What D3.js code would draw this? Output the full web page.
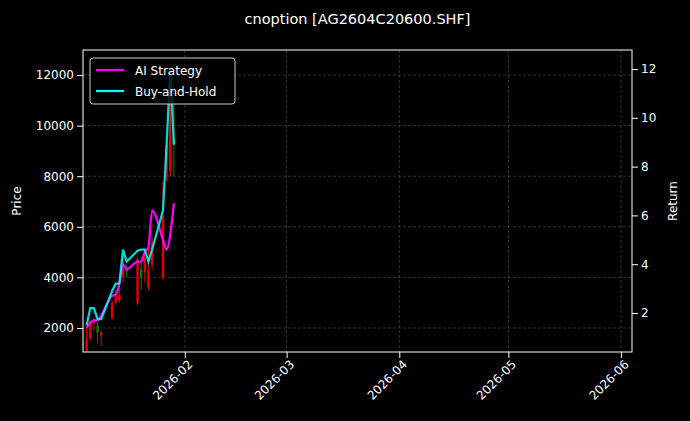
<!DOCTYPE html>
<html>
<head>
<meta charset="utf-8">
<title>cnoption</title>
<script src="https://cdn.jsdelivr.net/npm/d3@7"></script>
<style>
  body { margin: 0; background: #000; }
  text { font-family: "DejaVu Sans", sans-serif; fill: #fff; }
</style>
</head>
<body>
<div id="chart"></div>
<script>
var dates = ["2026-01-05","2026-01-06","2026-01-07","2026-01-08","2026-01-09","2026-01-12","2026-01-13",
  "2026-01-14","2026-01-15","2026-01-16","2026-01-19","2026-01-20","2026-01-21","2026-01-22","2026-01-23",
  "2026-01-26","2026-01-27","2026-01-28","2026-01-29"];
var open  = [1100,1600,2200,2100,1700,2400,3000,3100,4000,4400,3000,4300,4200,3600,4500,4000,8000,8200,9500];
var high  = [2100,2300,2400,2200,1900,3100,3500,3700,4800,4500,4800,4800,4900,5200,5600,7800,9400,12400,12000];
var low   = [1050,1500,1900,1400,1300,2300,2900,3000,3800,4000,2900,3500,3800,3500,4300,3900,7800,8000,8000];
var close = [1556,2281,2281,1815,1815,3007,3318,3318,4770,4252,4718,4000,4770,4252,5400,6430,9230,12000,9230];
var aiRet = [1.4,1.6,1.7,1.7,1.9,2.7,2.75,3.2,4.0,3.8,4.1,4.1,4.5,4.7,6.2,5.0,4.6,5.2,6.5];
var bhRet = [1.5,2.2,2.2,1.75,1.75,2.9,3.2,3.2,4.6,4.1,4.55,4.6,4.6,4.1,4.6,6.2,8.9,12.0,8.9];
var xTicks = ["2026-02-01","2026-03-01","2026-04-01","2026-05-01","2026-06-01"];

var W = 690, H = 421, L = 83, R = 632, T = 50, B = 352;
var parse = d3.utcParse("%Y-%m-%d");
var svg = d3.select("#chart").append("svg").attr("width", W).attr("height", H)
  .style("background", "#000");

var x = d3.scaleUtc().domain([parse("2026-01-04"), parse("2026-06-04")]).range([L, R]);
var y = d3.scaleLinear().domain([1050, 12990]).range([B, T]);
var y2 = d3.scaleLinear().domain([0.40, 12.78]).range([B, T]);

// grid
var g = svg.append("g");
xTicks.forEach(function(d) {
  g.append("line").attr("x1", x(parse(d))).attr("x2", x(parse(d))).attr("y1", T).attr("y2", B);
});
[2000,4000,6000,8000,10000,12000].forEach(function(v) {
  g.append("line").attr("x1", L).attr("x2", R).attr("y1", y(v)).attr("y2", y(v));
});
g.selectAll("line").attr("stroke", "#555").attr("stroke-dasharray", "3,2").attr("stroke-width", 0.6);

// candles
var rows = dates.map(function(d, i) {
  return {t: parse(d), o: open[i], h: high[i], l: low[i], c: close[i]};
});
var cg = svg.append("g");
rows.forEach(function(r) {
  var col = r.c >= r.o ? "#e00000" : "#008000";
  var cx = x(r.t);
  cg.append("line").attr("x1", cx).attr("x2", cx).attr("y1", y(r.h)).attr("y2", y(r.l))
    .attr("stroke", col).attr("stroke-width", 1);
  cg.append("rect").attr("x", cx - 1.2).attr("width", 2.4)
    .attr("y", y(Math.max(r.o, r.c))).attr("height", Math.max(1, Math.abs(y(r.o) - y(r.c))))
    .attr("fill", col);
});

// return lines
var ai = d3.line().x(function(d, i) { return x(parse(dates[i])); }).y(function(d) { return y2(d); })
  .curve(d3.curveMonotoneX);
var bh = d3.line().x(function(d, i) { return x(parse(dates[i])); }).y(function(d) { return y2(d); });
svg.append("path").attr("d", ai(aiRet)).attr("fill", "none").attr("stroke", "#ff00ff").attr("stroke-width", 2.2);
svg.append("path").attr("d", bh(bhRet)).attr("fill", "none").attr("stroke", "#00ffff")
  .attr("stroke-width", 2.2).attr("stroke-opacity", 0.85);

// axes
var ax = svg.append("g").attr("transform", "translate(0," + B + ")")
  .call(d3.axisBottom(x).tickValues(xTicks.map(parse)).tickFormat(d3.utcFormat("%Y-%m")).tickSizeOuter(0));
ax.selectAll("text").attr("text-anchor", "end").attr("dx", "-0.3em").attr("dy", "0.5em")
  .attr("transform", "rotate(-45)");
var ay = svg.append("g").attr("transform", "translate(" + L + ",0)")
  .call(d3.axisLeft(y).tickValues([2000,4000,6000,8000,10000,12000]).tickFormat(d3.format("d")).tickSizeOuter(0));
var ay2 = svg.append("g").attr("transform", "translate(" + R + ",0)")
  .call(d3.axisRight(y2).tickValues([2,4,6,8,10,12]).tickSizeOuter(0));
[ax, ay, ay2].forEach(function(a) {
  a.selectAll("text").style("font-size", "12px").attr("fill", "#fff");
  a.selectAll("line").attr("stroke", "#fff");
  a.select(".domain").remove();
});
svg.append("rect").attr("x", L).attr("y", T).attr("width", R - L).attr("height", B - T)
  .attr("fill", "none").attr("stroke", "#fff").attr("stroke-width", 1);

svg.append("text").attr("x", (L + R) / 2).attr("y", 24).attr("text-anchor", "middle")
  .style("font-size", "14.5px").text("cnoption [AG2604C20600.SHF]");
svg.append("text").attr("transform", "translate(21," + (T + B) / 2 + ") rotate(-90)")
  .attr("text-anchor", "middle").style("font-size", "12px").text("Price");
svg.append("text").attr("transform", "translate(677," + (T + B) / 2 + ") rotate(-90)")
  .attr("text-anchor", "middle").style("font-size", "12px").text("Return");

// legend
var lg = svg.append("g").attr("transform", "translate(90,58)");
lg.append("rect").attr("width", 145).attr("height", 46).attr("rx", 3)
  .attr("fill", "#000").attr("fill-opacity", 0.8).attr("stroke", "#ccc");
[["AI Strategy", "#ff00ff"], ["Buy-and-Hold", "#00ffff"]].forEach(function(d, i) {
  var yy = 12 + i * 21;
  lg.append("line").attr("x1", 6).attr("x2", 34).attr("y1", yy).attr("y2", yy)
    .attr("stroke", d[1]).attr("stroke-width", 2.2);
  lg.append("text").attr("x", 45).attr("y", yy + 4.5).style("font-size", "12px").text(d[0]);
});
</script>
</body>
</html>
